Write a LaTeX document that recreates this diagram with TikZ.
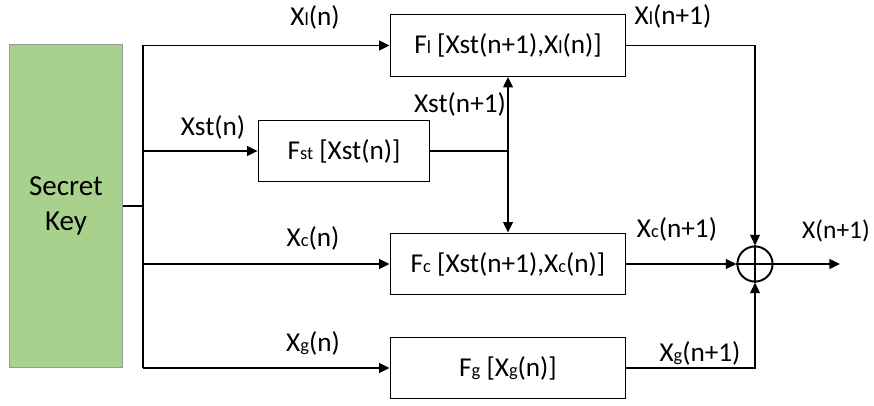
\documentclass[tikz,border=0pt]{standalone}
\usepackage{fontspec}
\setmainfont{Carlito}
\usetikzlibrary{arrows.meta}

\definecolor{keygreen}{HTML}{A9D18E}
\newcommand{\lo}[1]{{\fontsize{10.5}{12}\selectfont #1}}

\tikzset{
  >={Triangle[length=6pt,width=5.5pt]},
  func/.style={draw, rectangle, line width=0.8pt, minimum height=35pt, inner sep=0pt},
  lbl/.style={font=\fontsize{15.5}{18}\selectfont, inner sep=0pt},
  wire/.style={line width=1.1pt}
}

\begin{document}
\begin{tikzpicture}[x=0.02cm, y=-0.02cm, font=\fontsize{15.5}{18}\selectfont]
\useasboundingbox (0,0) rectangle (874,405);

\node (key) [rectangle, fill=keygreen, draw=gray!80, line width=0.6pt,
  minimum width=64pt, minimum height=184pt, align=center,
  font=\fontsize{16.5}{20}\selectfont] at (66,206) {Secret\\Key};

\node (fl) [func, minimum width=134pt] at (508,45.5) {F\lo{l} [Xst(n+1),X\lo{l}(n)]};
\node (fst) [func, minimum width=97.5pt] at (344,151) {F\lo{st} [Xst(n)]};
\node (fc) [func, minimum width=134pt] at (508,264) {F\lo{c} [Xst(n+1),X\lo{c}(n)]};
\node (fg) [func, minimum width=134pt] at (508,368) {F\lo{g} [X\lo{g}(n)]};

\node (xor) [circle, draw, line width=1.1pt, minimum size=20pt, inner sep=0pt] at (755,264) {};
\draw[line width=1.1pt] (xor.north) -- (xor.south) (xor.west) -- (xor.east);
\coordinate (out) at (840,264);

% secret key feeds every block
\coordinate (trunk) at (143,206);
\draw[wire] (key.east |- trunk) -- (trunk);
\draw[wire] (trunk |- fl.west) -- (trunk |- fg.west);
\draw[wire,->] (trunk |- fl.west) -- (fl.west);
\draw[wire,->] (trunk |- fst.west) -- (fst.west);
\draw[wire,->] (trunk |- fc.west) -- (fc.west);
\draw[wire,->] (trunk |- fg.west) -- (fg.west);

% state update goes to both
\draw[wire] (fst.east) -- (fst.east -| fl.south) coordinate (tap);
\draw[wire,->] (tap) -- (fl.south);
\draw[wire,->] (tap) -- (fc.north);

% combine
\draw[wire,->] (fl.east) -| (xor.north);
\draw[wire,->] (fc.east) -- (xor.west);
\draw[wire,->] (fg.east) -| (xor.south);
\draw[wire,->] (xor.east) -- (out);

\node (lxl) [lbl] at (315,17) {X\lo{l}(n)};
\node (lxst) [lbl] at (213,127) {Xst(n)};
\node (lxst1) [lbl] at (460,104) {Xst(n+1)};
\node (lxc) [lbl] at (313,238) {X\lo{c}(n)};
\node (lxg) [lbl] at (313,343) {X\lo{g}(n)};
\node (lxl1) [lbl] at (673,16) {X\lo{l}(n+1)};
\node (lxc1) [lbl] at (677,229) {X\lo{c}(n+1)};
\node (lxg1) [lbl] at (700,353) {X\lo{g}(n+1)};
\node (lx1) [lbl, font=\fontsize{14.5}{17}\selectfont] at (836,231) {X(n+1)};

\end{tikzpicture}
\end{document}
